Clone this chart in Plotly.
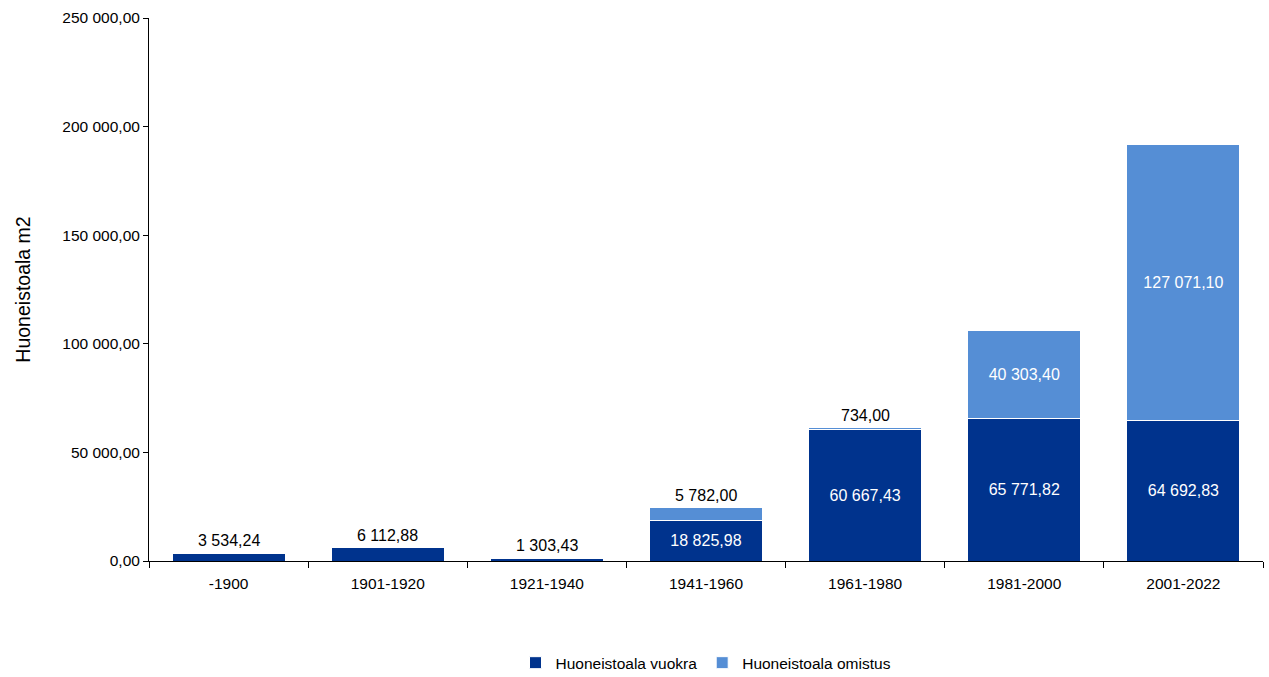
import plotly.graph_objects as go

categories = ["-1900", "1901-1920", "1921-1940", "1941-1960", "1961-1980", "1981-2000", "2001-2022"]
vuokra = [3534.24, 6112.88, 1303.43, 18825.98, 60667.43, 65771.82, 64692.83]
omistus = [0, 0, 0, 5782.00, 734.00, 40303.40, 127071.10]
series_names = ["Huoneistoala vuokra", "Huoneistoala omistus"]
y_ticks = [0, 50000, 100000, 150000, 200000, 250000]

DARK = "#00338D"
LIGHT = "#558ED5"
FONT = "Liberation Sans"
SMALL = 10000
FS = 15.5


def fmt(v):
    return f"{v:,.2f}".replace(",", " ").replace(".", ",")


xpos = list(range(len(categories)))

fig = go.Figure()
for name, vals, col in [(series_names[0], vuokra, DARK), (series_names[1], omistus, LIGHT)]:
    fig.add_trace(go.Bar(
        x=xpos, y=vals, name=name, width=0.71,
        marker=dict(color=col, line=dict(color="white", width=1)),
        text=[fmt(v) if v >= SMALL else "" for v in vals],
        textposition="inside", insidetextanchor="middle", textangle=0,
        textfont=dict(color="white", size=16, family=FONT),
        hoverinfo="skip",
    ))

annotations = []
for i, (a, b) in enumerate(zip(vuokra, omistus)):
    small = [v for v in (a, b) if 0 < v < SMALL]
    if small:
        annotations.append(dict(
            x=i, y=a + b, text=fmt(small[-1]), showarrow=False,
            yanchor="bottom", yshift=2,
            font=dict(color="black", size=16, family=FONT),
        ))

bounds = [i - 0.5 for i in range(len(categories) + 1)]

fig.update_layout(
    barmode="stack",
    width=1269, height=677,
    margin=dict(l=149, r=6, t=18, b=116, autoexpand=False),
    paper_bgcolor="white", plot_bgcolor="white",
    font=dict(family=FONT, size=FS, color="black"),
    annotations=annotations,
    legend=dict(orientation="h", x=0.5, xanchor="center", y=-0.188, yanchor="middle",
                font=dict(size=FS, family=FONT), traceorder="normal"),
    xaxis=dict(
        range=[-0.5, len(categories) - 0.5],
        tickvals=xpos, ticktext=categories, ticks="", ticklabelstandoff=8,
        showline=True, linecolor="black", linewidth=1,
        showgrid=False, zeroline=False, tickfont=dict(size=FS),
        minor=dict(tickvals=bounds, ticks="outside", ticklen=6, tickcolor="black", showgrid=False),
    ),
    yaxis=dict(
        range=[0, 250000], tickvals=y_ticks, ticktext=[fmt(v) for v in y_ticks],
        showline=True, linecolor="black", linewidth=1,
        ticks="outside", ticklen=5, tickcolor="black",
        showgrid=False, zeroline=False, tickfont=dict(size=FS),
        title=dict(text="Huoneistoala m2", font=dict(size=19.5, family=FONT), standoff=26),
    ),
)

fig.write_html("out.html")
